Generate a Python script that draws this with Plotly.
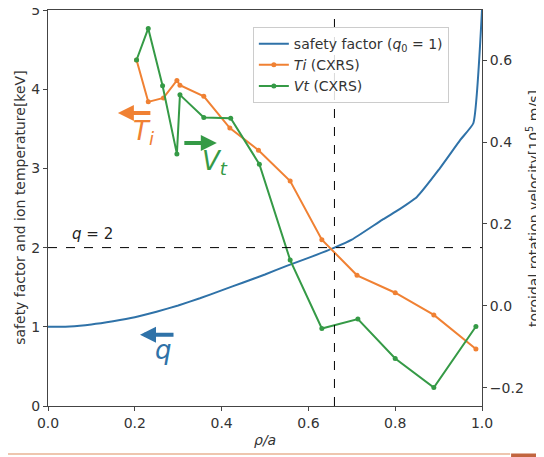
import plotly.graph_objects as go

# ---- data ----
rho_q = [0.0, 0.05, 0.1, 0.15, 0.2, 0.25, 0.3, 0.35, 0.4, 0.45, 0.5, 0.55, 0.6, 0.66,
         0.7, 0.77, 0.8, 0.85, 0.9, 0.95, 0.98, 1.0]
q_vals = [1.00, 1.005, 1.03, 1.07, 1.12, 1.19, 1.27, 1.36, 1.46, 1.56, 1.66, 1.77, 1.87, 2.0,
          2.1, 2.35, 2.45, 2.64, 2.98, 3.36, 3.57, 5.0]

rho_ti = [0.204, 0.231, 0.266, 0.297, 0.304, 0.359, 0.419, 0.485, 0.558, 0.631, 0.712, 0.800, 0.889, 0.986]
ti_vals = [4.37, 3.84, 3.89, 4.11, 4.05, 3.91, 3.51, 3.23, 2.84, 2.10, 1.65, 1.43, 1.15, 0.72]

rho_vt = [0.204, 0.231, 0.264, 0.297, 0.304, 0.359, 0.421, 0.487, 0.558, 0.631, 0.714, 0.800, 0.889, 0.986]
vt_vals = [0.600, 0.677, 0.537, 0.371, 0.515, 0.460, 0.458, 0.346, 0.112, -0.055, -0.032, -0.128, -0.199, -0.050]

q_rational = 2
rho_q2 = 0.66

left_ticks = [0, 1, 2, 3, 4, 5]
right_ticks = [-0.2, 0.0, 0.2, 0.4, 0.6]
x_ticks = [0.0, 0.2, 0.4, 0.6, 0.8, 1.0]

BLUE = "#2f72a8"
ORANGE = "#f08133"
GREEN = "#359a46"
FONT = "DejaVu Sans"
TXT = "#333333"

fig = go.Figure()
fig.add_trace(go.Scatter(x=rho_q, y=q_vals, mode="lines", line=dict(color=BLUE, width=2, shape="spline", smoothing=0.4),
                         name="safety factor (<i>q</i><sub>0</sub> = 1)"))
fig.add_trace(go.Scatter(x=rho_ti, y=ti_vals, mode="lines+markers", line=dict(color=ORANGE, width=2),
                         marker=dict(size=5, color=ORANGE), name="<i>Ti</i> (CXRS)"))
fig.add_trace(go.Scatter(x=rho_vt, y=vt_vals, mode="lines+markers", line=dict(color=GREEN, width=2),
                         marker=dict(size=5, color=GREEN), name="<i>Vt</i> (CXRS)", yaxis="y2"))

axis_common = dict(showgrid=False, zeroline=False, showline=True, linecolor="#444444", linewidth=1,
                   ticks="outside", ticklen=4, tickcolor="#444444", automargin=False,
                   ticklabeloverflow="allow",
                   tickfont=dict(family=FONT, size=14, color=TXT))

# page body has an 8px margin: figure spans page px 8..544 x 8..457
fig.update_layout(
    width=536, height=449,
    margin=dict(l=40, r=62, t=2, b=51),
    plot_bgcolor="white", paper_bgcolor="white",
    font=dict(family=FONT, color=TXT),
    xaxis=dict(range=[0, 1], tickvals=x_ticks, ticktext=[f"{v:.1f}" for v in x_ticks], mirror=True,
               **axis_common),
    yaxis=dict(range=[0, 5], tickvals=left_ticks, **axis_common),
    yaxis2=dict(range=[-0.244, 0.722], overlaying="y", side="right", tickvals=right_ticks, tickformat=".1f",
                **axis_common),
    legend=dict(x=0.472, y=0.957, xanchor="left", yanchor="top", bgcolor="rgba(255,255,255,0.85)",
                bordercolor="#cccccc", borderwidth=1, font=dict(family=FONT, size=14, color=TXT),
                tracegroupgap=0, itemwidth=30),
    showlegend=True,
)

# axis titles as annotations (paper coords relative to plot area 434x396 px)
fig.add_annotation(x=-0.065, y=0.5, xref="paper", yref="paper", text="safety factor and ion temperature[keV]",
                   textangle=-90, showarrow=False, xanchor="center", yanchor="middle",
                   font=dict(family=FONT, size=14, color=TXT))
fig.add_annotation(x=1.1175, y=0.5, xref="paper", yref="paper", text="toroidal rotation velocity[10<sup>5</sup> m/s]",
                   textangle=-90, showarrow=False, xanchor="center", yanchor="middle",
                   font=dict(family=FONT, size=14, color=TXT))
fig.add_annotation(x=0.5, y=-0.085, xref="paper", yref="paper", text="<i>ρ/a</i>",
                   showarrow=False, xanchor="center", yanchor="middle",
                   font=dict(family=FONT, size=14, color=TXT))

# reference dashed lines
fig.add_shape(type="line", xref="paper", yref="y", x0=0, x1=1, y0=q_rational, y1=q_rational,
              line=dict(color="black", width=1, dash="dash"))
fig.add_shape(type="line", xref="x", yref="paper", x0=rho_q2, x1=rho_q2, y0=0, y1=1,
              line=dict(color="black", width=1, dash="dash"))

# bottom decorative strip
fig.add_shape(type="line", xref="paper", yref="paper", x0=-0.1, x1=1.065, y0=-0.121, y1=-0.121,
              line=dict(color="#e9b394", width=1.5))
fig.add_shape(type="rect", xref="paper", yref="paper", x0=1.067, x1=1.15, y0=-0.12, y1=-0.14,
              line=dict(width=0), fillcolor="#c2653f")

fig.add_annotation(x=0.05, y=2.17, xref="x", yref="y", text="<i>q</i> = 2", showarrow=False,
                   font=dict(family=FONT, size=15, color="#222222"), xanchor="left")

# arrows with labels
fig.add_annotation(x=0.161, y=3.70, xref="x", yref="y", ax=34, ay=0, text="", showarrow=True,
                   arrowhead=2, arrowsize=0.8, arrowwidth=4, arrowcolor=ORANGE)
fig.add_annotation(x=0.219, y=3.45, xref="x", yref="y", text="<i>T<sub>i</sub></i>", showarrow=False,
                   font=dict(family=FONT, size=26, color=ORANGE))
fig.add_annotation(x=0.389, y=3.32, xref="x", yref="y", ax=-34, ay=0, text="", showarrow=True,
                   arrowhead=2, arrowsize=0.8, arrowwidth=4, arrowcolor=GREEN)
fig.add_annotation(x=0.385, y=3.07, xref="x", yref="y", text="<i>V<sub>t</sub></i>", showarrow=False,
                   font=dict(family=FONT, size=26, color=GREEN))
fig.add_annotation(x=0.212, y=0.90, xref="x", yref="y", ax=35, ay=0, text="", showarrow=True,
                   arrowhead=2, arrowsize=0.8, arrowwidth=4, arrowcolor=BLUE)
fig.add_annotation(x=0.265, y=0.71, xref="x", yref="y", text="<i>q</i>", showarrow=False,
                   font=dict(family=FONT, size=26, color=BLUE))

fig.write_html("out.html")
